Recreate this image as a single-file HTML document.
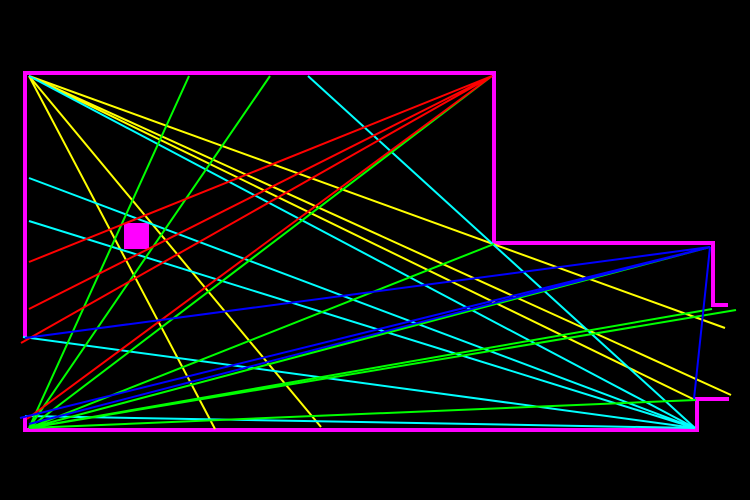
<!DOCTYPE html>
<html><head><style>body{margin:0;background:#000}</style></head><body>
<svg width="750" height="500" xmlns="http://www.w3.org/2000/svg" style="display:block">
<rect width="750" height="500" fill="#000"/>
<g fill="none" stroke="#f0f" stroke-width="4">
<polyline points="25,337 25,73 494,73 494,243 713,243 713,305 728,305"/>
<polyline points="25,417 25,430 697,430 697,399 729,399"/>
</g>
<rect x="124" y="223" width="25" height="26" fill="#f0f"/>
<g stroke-width="2" fill="none">
<g stroke="#ff0">
<line x1="29" y1="76" x2="215" y2="429"/>
<line x1="29" y1="76" x2="321" y2="427"/>
<line x1="29" y1="76" x2="725" y2="328"/>
<line x1="29" y1="76" x2="731" y2="395"/>
<line x1="29" y1="76" x2="695" y2="400"/>
</g>
<g stroke="#0ff">
<line x1="29" y1="76" x2="695" y2="428"/>
<line x1="308" y1="76" x2="695" y2="428"/>
<line x1="29" y1="178" x2="695" y2="428"/>
<line x1="29" y1="221" x2="695" y2="428"/>
<line x1="23" y1="337" x2="695" y2="428"/>
<line x1="25" y1="416" x2="695" y2="428"/>
</g>
<g stroke="#0f0">
<line x1="189" y1="76" x2="29" y2="428"/>
<line x1="270" y1="76" x2="29" y2="428"/>
<line x1="492" y1="76" x2="29" y2="428"/>
<line x1="494" y1="244" x2="29" y2="428"/>
<line x1="736" y1="310" x2="29" y2="428"/>
<line x1="712" y1="309" x2="29" y2="428"/>
<line x1="696" y1="400" x2="29" y2="428"/>
<line x1="710" y1="247" x2="29" y2="428"/>
</g>
<g stroke="#f00">
<line x1="492" y1="76" x2="29" y2="262"/>
<line x1="492" y1="76" x2="29" y2="309"/>
<line x1="492" y1="76" x2="21" y2="343"/>
<line x1="492" y1="76" x2="27" y2="419"/>
</g>
<g stroke="#00f">
<line x1="710" y1="247" x2="25" y2="338"/>
<line x1="710" y1="247" x2="20" y2="418"/>
<line x1="710" y1="247" x2="29" y2="424"/>
<line x1="710" y1="247" x2="694" y2="399"/>
</g>
</g>
</svg>
</body></html>
